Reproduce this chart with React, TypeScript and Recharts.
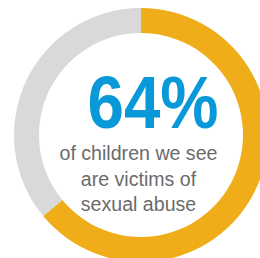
import React from "react";
import { PieChart, Pie, Cell } from "recharts";

const segments = ["victims", "others"];
const shares = [64, 36];
const colors = ["#EFAD19", "#D9D9D9"];
const headline = "64%";
const captionLines = ["of children we see", "are victims of", "sexual abuse"];

const data = segments.map((name, i) => ({ name, value: shares[i] }));

const App: React.FC = () => {
  return (
    <div style={{ position: "absolute", left: 0, top: 0, width: 260, height: 258, background: "#fff" }}>
      <PieChart width={260} height={258} margin={{ top: 0, right: 0, bottom: 0, left: 0 }}>
        <Pie
          data={data}
          dataKey="value"
          cx={141}
          cy={135}
          innerRadius={102}
          outerRadius={127}
          startAngle={90}
          endAngle={-270}
          stroke="none"
          isAnimationActive={false}
        >
          {data.map((d, i) => (
            <Cell key={d.name} fill={colors[i]} />
          ))}
        </Pie>
      </PieChart>
      <svg width={260} height={258} style={{ position: "absolute", left: 0, top: 0 }}>
        <text
          x={153}
          y={128}
          textAnchor="middle"
          fontFamily="Liberation Sans, Arial, sans-serif"
          fontWeight="bold"
          fontSize={75}
          fill="#0A99D8"
          textLength={131}
          lengthAdjust="spacingAndGlyphs"
        >
          {headline}
        </text>
        {captionLines.map((line, i) => (
          <text
            key={line}
            x={138.5}
            y={160 + i * 25.5}
            textAnchor="middle"
            fontFamily="Liberation Sans, Arial, sans-serif"
            fontSize={19.6}
            fill="#6B6B6B"
          >
            {line}
          </text>
        ))}
      </svg>
    </div>
  );
};

export default App;
